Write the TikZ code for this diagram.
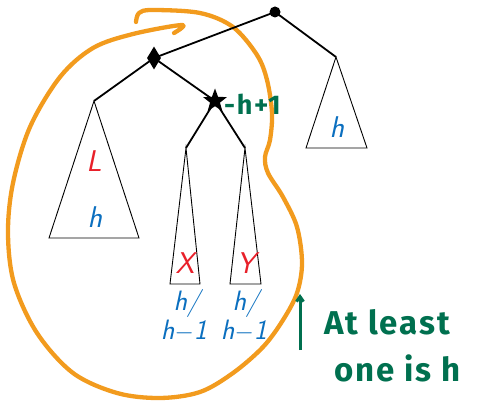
\documentclass[tikz,border=0pt]{standalone}
\usepackage{fontspec}
\usetikzlibrary{shapes.geometric,arrows.meta}
\newfontfamily\hand{Fira Sans}[LetterSpace=6]
\definecolor{hred}{HTML}{E8202A}
\definecolor{hblue}{HTML}{0B6FBF}
\definecolor{hgreen}{HTML}{00704F}
\definecolor{horange}{HTML}{F29B1E}
\tikzset{
  edge/.style={line width=1.8pt},
  tri/.style={line width=0.9pt, line join=miter},
  lab/.style={inner sep=0pt, font=\fontsize{30}{26}\selectfont\sffamily\itshape},
  redlab/.style={lab, text=hred},
  bluelab/.style={lab, text=hblue},
  toplab/.style={bluelab, font=\fontsize{28}{26}\selectfont\sffamily\itshape, text depth=0pt, anchor=base},
  botlab/.style={bluelab, font=\fontsize{28}{26}\selectfont\sffamily\itshape, text height=16pt, anchor=base},
  note/.style={inner sep=0pt, text=hgreen, font=\hand\bfseries\fontsize{33}{40}\selectfont, anchor=west},
}
\begin{document}
\begin{tikzpicture}[x=1pt,y=-1pt]
\useasboundingbox (0,0) rectangle (483,404);
% apexes
\coordinate (Lt) at (94,101);
\coordinate (Rt) at (336,57);
\coordinate (Xt) at (186,148);
\coordinate (Yt) at (245,148);
% orange loop
\draw[horange, line width=4.3pt, line cap=round, line join=round]
  plot[smooth, tension=0.55] coordinates {(136,22) (139,13) (152,10) (200,13) (233,27) (257,55) (267,80) (272,113) (270,140) (265,157) (268,173) (283,197) (297,227) (302,263) (297,293) (283,320) (263,347) (233,373) (200,392) (160,398) (117,393) (73,373) (37,333) (14,283) (8,233) (13,183) (30,127) (60,77) (93,48) (133,34) (182,25) (174,33)};
% nodes
\node[circle, fill, inner sep=0pt, minimum size=11pt] (root) at (275,12) {};
\node[diamond, fill, inner sep=0pt, minimum width=14pt, minimum height=23pt] (dia) at (154,58) {};
\node[star, star points=5, star point ratio=2.4, fill, inner sep=0pt, minimum size=25pt] (st) at (215,101) {};
% edges
\draw[edge] (root.center) -- (dia.center);
\draw[edge] (root.center) -- (Rt);
\draw[edge] (dia.center) -- (Lt);
\draw[edge] (dia.center) -- (st.center);
\draw[edge] (st.center) -- (Xt);
\draw[edge] (st.center) -- (Yt);
% triangles
\draw[tri] (Lt) -- (49,238) -- (139,238) -- cycle;
\draw[tri] (Rt) -- (306,148) -- (367,148) -- cycle;
\draw[tri] (Xt) -- (170,284) -- (200,284) -- cycle;
\draw[tri] (Yt) -- (230,284) -- (261,284) -- cycle;
% labels
\node[redlab] (L) at (94,161) {L};
\node[bluelab] (hL) at (95,217) {h};
\node[bluelab] (hR) at (337,127) {h};
\node[redlab] (X) at (185,263) {X};
\node[redlab] (Y) at (246,263) {Y};
\node[toplab] (hX1) at (187,310) {h/};
\node[botlab] (hX2) at (184,339) {h$\mathsf{-}$1};
\node[toplab] (hY1) at (246,310) {h/};
\node[botlab] (hY2) at (244,339) {h$\mathsf{-}$1};
% green notes
\node[inner sep=0pt, text=hgreen, font=\hand\bfseries\fontsize{27}{30}\selectfont, anchor=west] (hm) at (224,104) {-h+1};
\coordinate (arB) at (300,350);
\coordinate (arT) at (300,294);
\draw[hgreen, line width=3pt, -{Straight Barb[length=5pt,width=7pt]}] (arB) -- (arT);
\node[note] (n1) at (324,322) {At least};
\node[note] (n2) at (334,368) {one is h};
\end{tikzpicture}
\end{document}
